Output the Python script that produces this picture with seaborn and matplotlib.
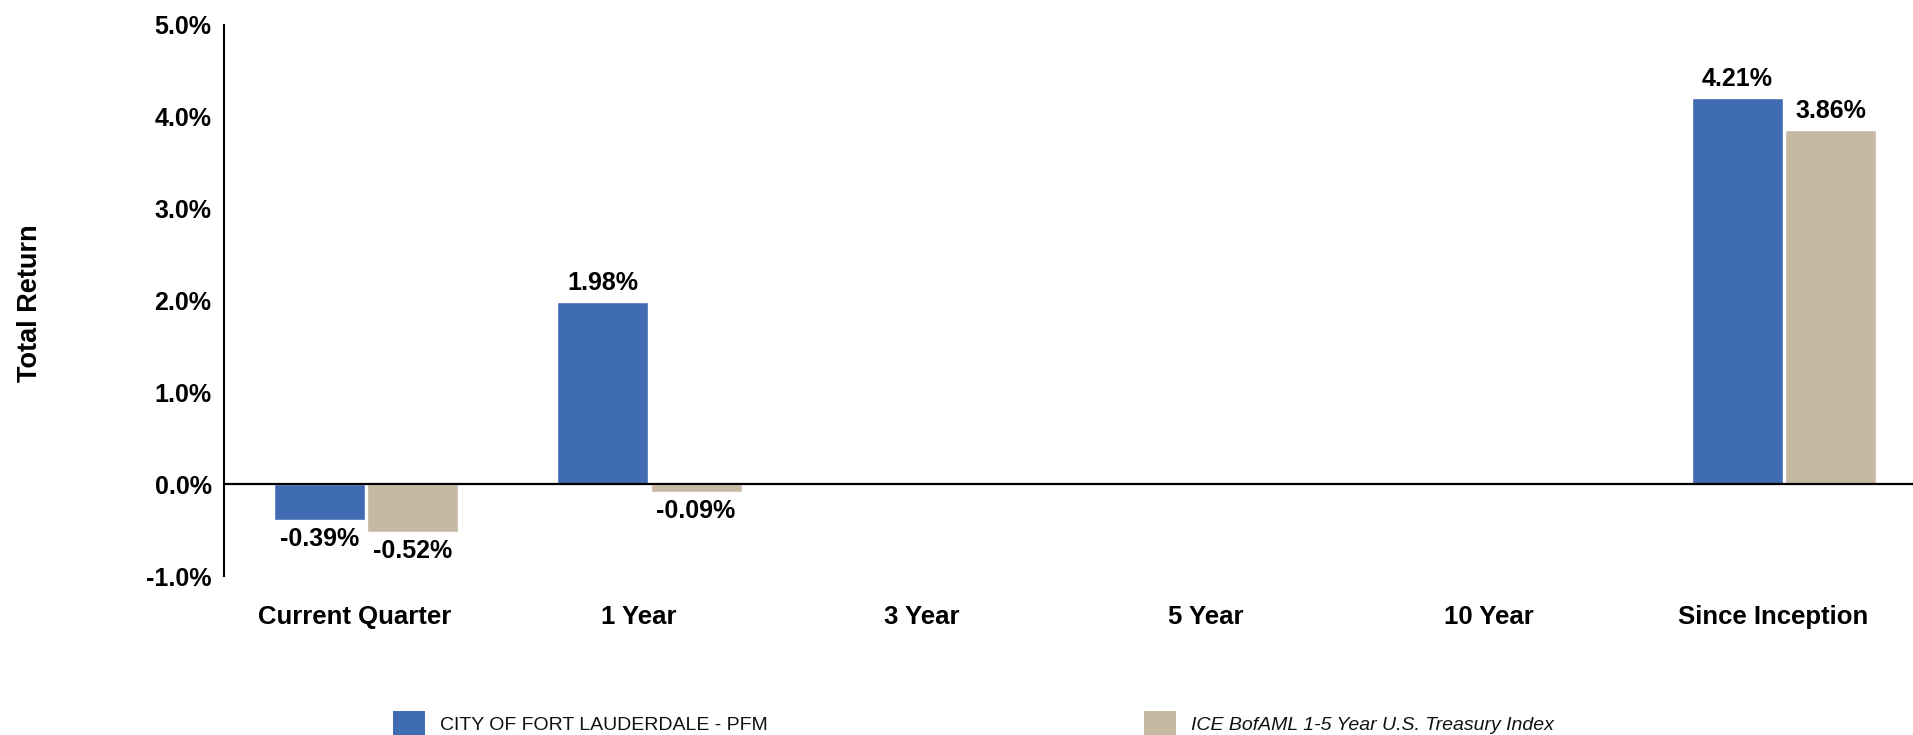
import matplotlib
matplotlib.use("Agg")
import matplotlib.pyplot as plt
from matplotlib.patches import Patch
from matplotlib.transforms import ScaledTranslation
import seaborn as sns
import pandas as pd

# ---- data ----
categories = ["Current Quarter", "1 Year", "3 Year", "5 Year", "10 Year", "Since Inception"]
series_names = ["CITY OF FORT LAUDERDALE - PFM", "ICE BofAML 1-5 Year U.S. Treasury Index"]
portfolio_cats = ["Current Quarter", "1 Year", "Since Inception"]
portfolio_vals = [-0.39, 1.98, 4.21]
index_cats = ["Current Quarter", "1 Year", "Since Inception"]
index_vals = [-0.52, -0.09, 3.86]
y_ticks = [-1, 0, 1, 2, 3, 4, 5]
colors = ["#3F6BB2", "#C7B8A3"]

df = pd.concat([
    pd.DataFrame({"Period": portfolio_cats, "Return": portfolio_vals, "Series": series_names[0]}),
    pd.DataFrame({"Period": index_cats, "Return": index_vals, "Series": series_names[1]}),
], ignore_index=True)

sns.set_style("white")
plt.rcParams["font.family"] = ["Liberation Sans", "DejaVu Sans"]

W, H = 1913, 735
fig = plt.figure(figsize=(W / 100, H / 100), dpi=100)
ax_left, ax_right, ax_top, ax_bot = 224, 1913, 25, 576
ax = fig.add_axes([ax_left / W, 1 - ax_bot / H, (ax_right - ax_left) / W, (ax_bot - ax_top) / H])

sns.barplot(data=df, x="Period", y="Return", hue="Series", order=categories,
            hue_order=series_names, palette=colors, width=0.658, gap=0.025,
            errorbar=None, saturation=1, legend=False, ax=ax)

ax.set_xlim(-0.5, 5.455)
ax.set_ylim(-1, 5)
ax.set_yticks(y_ticks)
ax.set_yticklabels([f"{t:.1f}%" for t in y_ticks])
ax.tick_params(axis="y", length=0, pad=9, labelsize=18)
ax.tick_params(axis="x", length=0, pad=21, labelsize=18.5)
offset = ScaledTranslation(-11 / 100, 0, fig.dpi_scale_trans)
for lab in ax.get_xticklabels():
    lab.set_transform(lab.get_transform() + offset)
for lab in ax.get_yticklabels() + ax.get_xticklabels():
    lab.set_fontweight("bold")
    lab.set_color("black")

ax.set_xlabel("")
ax.set_ylabel("Total Return", fontsize=19.5, fontweight="bold", color="black")
ax.yaxis.set_label_coords(-0.107, 0.495)

for s in ["top", "right", "bottom"]:
    ax.spines[s].set_visible(False)
ax.spines["left"].set_color("black")
ax.spines["left"].set_linewidth(1.5)
ax.axhline(0, color="black", lw=1.6, zorder=3)
ax.grid(False)

for cont in ax.containers:
    ax.bar_label(cont, fmt="{:.2f}%", padding=5, fontsize=18, fontweight="bold", color="black")

# legend
leg_kw = dict(loc="center left", frameon=False, borderpad=0, borderaxespad=0,
              handlelength=1.65, handleheight=1.65, handletextpad=0.77)
fig.legend(handles=[Patch(facecolor=colors[0], edgecolor="none")], labels=[series_names[0]],
           bbox_to_anchor=(393 / W, 1 - 724 / H), prop={"size": 14}, labelcolor="#111111", **leg_kw)
fig.legend(handles=[Patch(facecolor=colors[1], edgecolor="none")], labels=[series_names[1]],
           bbox_to_anchor=(1144 / W, 1 - 724 / H), prop={"size": 14, "style": "italic"},
           labelcolor="#111111", **leg_kw)

fig.savefig("out.png", dpi=100)
